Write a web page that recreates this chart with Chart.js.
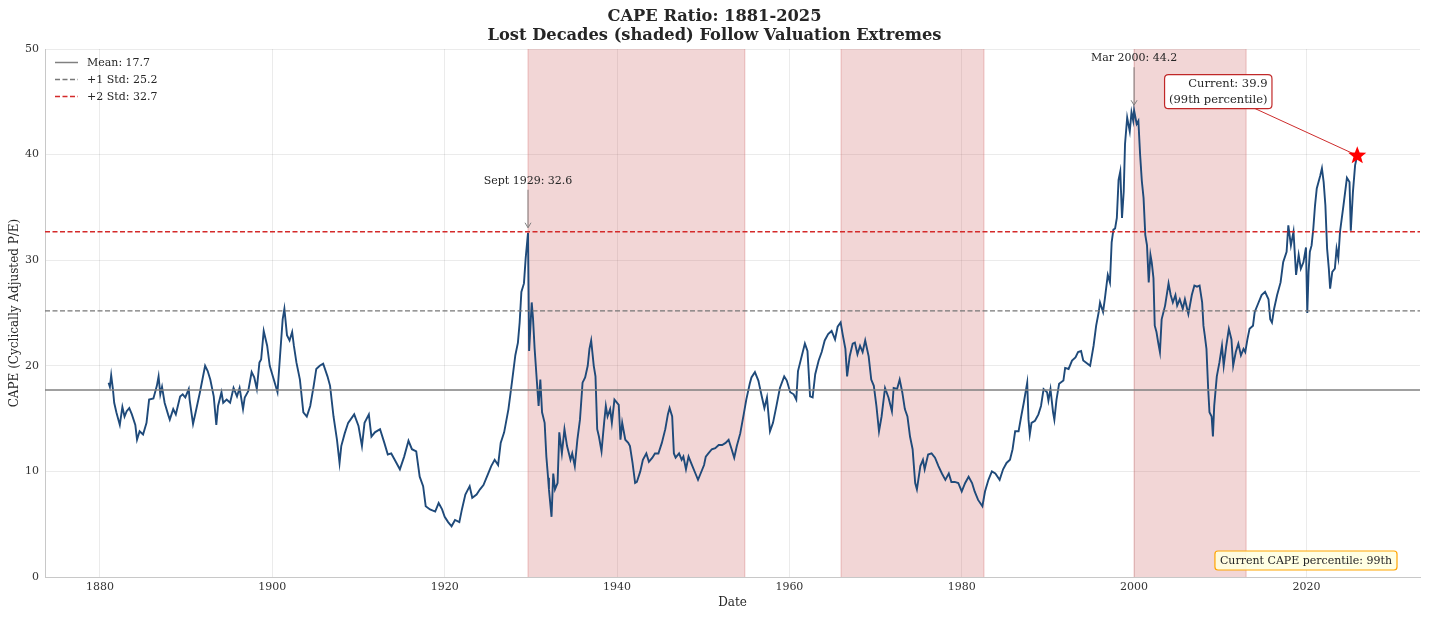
<!DOCTYPE html>
<html>
<head>
<meta charset="utf-8">
<script src="https://cdn.jsdelivr.net/npm/chart.js@4.4.1/dist/chart.umd.min.js"></script>
<style>
html,body{margin:0;padding:0;background:#fff;}
#wrap{width:1429px;height:619px;position:relative;}
</style>
</head>
<body>
<div id="wrap"><canvas id="c"></canvas></div>
<script>
// ---- data ----
const dates = [
 1881.0,1881.15,1881.3,1881.5,1881.65,1881.9,
 1882.3,1882.6,1882.85,
 1883.1,1883.4,1883.7,
 1884.1,1884.3,1884.6,
 1885.0,1885.4,1885.7,
 1886.2,1886.6,1886.8,
 1887.0,1887.2,1887.5,1887.9,
 1888.1,1888.5,1888.8,
 1889.3,1889.6,1889.9,
 1890.3,1890.4,1890.8,
 1891.1,1891.6,
 1892.2,1892.5,1892.8,
 1893.2,1893.5,1893.7,
 1894.1,1894.3,1894.7,
 1895.1,1895.5,1895.9,
 1896.2,1896.6,1896.8,
 1897.2,1897.6,1897.9,
 1898.2,1898.5,1898.7,
 1899.0,1899.4,1899.7,
 1900.1,1900.6,1900.9,
 1901.2,1901.4,1901.7,
 1902.0,1902.3,1902.5,1902.8,
 1903.2,1903.6,
 1904.0,1904.4,1904.8,
 1905.1,1905.5,1905.9,
 1906.4,1906.7,
 1907.1,1907.5,1907.8,
 1908.0,1908.4,1908.8,
 1909.5,
 1910.0,1910.4,1910.7,
 1911.2,1911.5,1911.9,
 1912.5,
 1913.0,1913.4,1913.8,
 1914.2,1914.8,
 1915.3,1915.8,
 1916.2,1916.7,
 1917.1,1917.5,1917.8,
 1918.3,1918.9,
 1919.3,1919.7,
 1920.0,1920.4,1920.8,
 1921.2,1921.7,
 1922.0,1922.4,1922.9,
 1923.2,1923.7,
 1924.1,1924.5,
 1925.0,1925.4,1925.8,
 1926.2,1926.5,1926.9,
 1927.4,1927.8,
 1928.2,1928.5,1928.7,1928.9,
 1929.2,1929.4,1929.67,1929.8,
 1930.1,1930.25,1930.44,1930.71,1930.9,
 1931.1,1931.3,1931.6,1931.8,
 1932.0,1932.1,1932.4,1932.6,1932.8,
 1933.1,1933.3,1933.6,1933.9,
 1934.2,1934.6,1934.8,
 1935.1,1935.4,1935.7,
 1936.0,1936.3,1936.6,1936.8,
 1937.0,1937.3,1937.5,1937.7,1937.9,
 1938.2,1938.5,1938.7,1938.9,
 1939.2,1939.4,1939.7,
 1940.2,1940.4,1940.6,1940.96,
 1941.3,1941.5,1941.8,
 1942.1,1942.3,1942.7,
 1943.0,1943.4,1943.7,
 1944.1,1944.4,1944.8,
 1945.2,1945.6,1945.9,
 1946.1,1946.4,1946.6,1946.8,
 1947.2,1947.5,1947.7,
 1948.0,1948.3,1948.7,
 1949.1,1949.4,1949.7,
 1950.1,1950.3,1950.6,
 1951.0,1951.4,1951.8,
 1952.2,1952.6,1952.95,
 1953.3,1953.6,1953.9,
 1954.3,1954.7,
 1955.0,1955.4,1955.6,
 1956.0,1956.4,1956.8,
 1957.1,1957.4,1957.75,
 1958.1,1958.5,1958.9,
 1959.4,1959.7,
 1960.1,1960.5,1960.8,
 1961.0,1961.4,1961.8,
 1962.1,1962.4,1962.7,
 1963.0,1963.4,1963.75,
 1964.1,1964.5,1964.9,
 1965.3,1965.6,1965.95,
 1966.2,1966.5,1966.7,
 1967.0,1967.35,1967.6,1967.9,
 1968.2,1968.5,1968.8,
 1969.2,1969.5,1969.8,
 1970.1,1970.4,1970.7,
 1971.1,1971.5,1971.9,
 1972.1,1972.5,1972.8,
 1973.1,1973.4,1973.7,
 1974.0,1974.3,1974.6,1974.8,
 1975.2,1975.5,1975.7,
 1976.1,1976.5,1976.9,
 1977.3,1977.7,
 1978.1,1978.5,1978.8,
 1979.2,1979.6,
 1980.0,1980.4,1980.8,
 1981.2,1981.5,1981.9,
 1982.4,1982.7,
 1983.1,1983.5,1983.9,
 1984.4,1984.8,
 1985.2,1985.6,1985.9,
 1986.2,1986.6,1986.9,
 1987.2,1987.6,1987.75,1987.9,
 1988.1,1988.5,1988.9,
 1989.2,1989.5,1989.9,
 1990.06,1990.3,1990.6,1990.75,
 1991.0,1991.3,1991.8,
 1992.0,1992.4,1992.8,
 1993.2,1993.5,1993.85,
 1994.1,1994.6,1994.9,
 1995.3,1995.6,1995.9,
 1996.05,1996.4,1996.6,1996.95,
 1997.2,1997.4,1997.6,1997.8,
 1998.0,1998.2,1998.4,1998.6,1998.8,1998.95,
 1999.2,1999.5,1999.7,1999.9,
 2000.0,2000.3,2000.5,2000.7,2000.9,
 2001.1,2001.3,2001.5,2001.7,2001.9,
 2002.05,2002.25,2002.4,2002.6,2002.8,
 2003.0,2003.2,2003.6,
 2004.0,2004.25,2004.5,2004.8,
 2005.0,2005.3,2005.65,2005.9,
 2006.3,2006.7,
 2007.0,2007.3,2007.6,2007.9,
 2008.05,2008.2,2008.4,2008.6,2008.75,
 2009.0,2009.15,2009.3,2009.6,2009.9,
 2010.2,2010.4,2010.7,
 2011.0,2011.3,2011.5,2011.8,
 2012.1,2012.4,2012.7,2012.9,
 2013.15,2013.4,2013.8,
 2014.0,2014.4,2014.8,
 2015.2,2015.6,2015.8,
 2016.0,2016.25,2016.6,
 2017.0,2017.3,2017.7,2017.9,
 2018.2,2018.5,2018.8,
 2019.1,2019.35,2019.65,2019.95,
 2020.1,2020.25,2020.4,2020.6,2020.8,
 2021.0,2021.2,2021.6,2021.8,
 2022.0,2022.2,2022.4,2022.6,2022.75,
 2023.0,2023.3,2023.5,2023.7,2023.9,
 2024.3,2024.7,
 2025.0,2025.15,2025.4,2025.65,2025.9
];
const cape = [
 18.4,18.0,19.1,17.8,16.5,15.6,
 14.4,16.1,15.2,
 15.7,16.0,15.4,
 14.4,13.0,13.8,
 13.5,14.6,16.8,
 16.9,18.1,19.0,
 17.3,18.0,16.5,15.4,
 14.9,15.9,15.4,
 17.1,17.3,17.0,
 17.8,16.8,14.5,
 15.6,17.5,
 20.0,19.5,18.7,
 17.1,14.4,16.2,
 17.5,16.5,16.8,
 16.5,17.9,17.1,
 17.9,15.9,17.0,
 17.6,19.4,18.9,
 17.8,20.3,20.6,
 23.3,21.9,20.0,
 18.9,17.5,21.0,
 24.4,25.4,22.9,
 22.4,23.2,21.9,20.3,
 18.7,15.6,
 15.2,16.2,18.1,
 19.7,20.0,20.2,
 19.0,18.1,
 15.2,13.0,10.8,
 12.4,13.6,14.6,
 15.4,
 14.3,12.4,14.6,
 15.4,13.3,13.7,
 14.0,
 12.7,11.6,11.7,
 11.1,10.2,
 11.4,12.9,
 12.1,11.9,
 9.5,8.6,6.7,
 6.4,6.2,
 7.0,6.4,
 5.7,5.2,4.8,
 5.4,5.2,
 6.4,7.8,8.6,
 7.5,7.8,
 8.3,8.7,
 9.7,10.5,11.1,
 10.6,12.7,13.7,
 15.9,18.4,
 21.0,22.2,24.1,27.0,
 27.8,30.2,32.6,21.4,
 26.0,24.5,21.6,18.4,16.2,
 18.7,15.6,14.6,11.4,
 9.4,8.3,5.7,9.8,8.3,
 8.9,13.7,11.7,14.0,
 12.4,11.1,11.7,
 10.5,13.0,14.9,
 18.4,18.9,20.0,21.6,
 22.4,20.0,19.0,14.0,13.3,
 11.9,14.6,16.2,15.2,
 15.9,14.6,16.8,
 16.3,13.0,14.6,13.0,
 12.7,12.4,10.8,
 8.9,9.0,10.0,
 11.1,11.7,10.9,
 11.3,11.7,11.7,
 12.7,14.0,15.4,
 16.0,15.2,11.7,11.3,
 11.7,11.1,11.4,
 10.2,11.4,10.6,
 9.8,9.2,9.8,
 10.6,11.4,11.7,
 12.1,12.2,12.5,
 12.5,12.7,13.0,
 12.1,11.3,12.4,
 13.6,15.4,
 16.8,18.3,18.9,
 19.4,18.6,17.1,
 16.0,17.0,13.8,
 14.6,16.2,17.9,
 19.0,18.6,
 17.5,17.3,16.8,
 19.5,20.8,22.1,
 21.4,17.1,17.0,
 19.2,20.5,21.3,
 22.4,23.0,23.3,
 22.5,23.7,24.1,
 22.9,21.6,19.0,
 20.9,22.1,22.2,21.1,
 21.9,21.3,22.4,
 20.9,18.7,18.1,
 16.2,13.8,15.2,
 17.9,17.0,15.7,
 17.9,17.8,18.7,
 17.5,15.9,15.2,
 13.3,12.1,8.9,8.3,
 10.5,11.1,10.2,
 11.6,11.7,11.3,
 10.5,9.8,
 9.2,9.8,9.0,
 9.0,8.9,
 8.1,8.9,9.5,
 8.9,8.1,7.3,
 6.7,8.1,
 9.2,10.0,9.8,
 9.2,10.2,
 10.8,11.1,12.1,
 13.8,13.8,15.2,
 16.5,18.4,14.9,13.5,
 14.6,14.8,15.4,
 16.2,17.8,17.5,
 16.7,17.8,15.6,14.9,
 16.8,18.3,18.6,
 19.8,19.7,20.5,
 20.8,21.3,21.4,
 20.5,20.2,20.0,
 21.9,23.8,25.1,
 26.0,25.1,26.3,28.6,
 27.9,31.7,32.9,33.0,
 34.0,37.6,38.4,34.0,36.5,41.0,
 43.5,42.2,44.0,43.2,
 44.2,42.9,43.2,40.0,37.5,
 35.9,32.4,31.4,27.9,30.5,
 29.8,28.3,23.8,23.2,22.2,
 21.3,24.4,25.7,
 27.8,26.7,26.0,26.7,
 25.7,26.3,25.4,26.3,
 24.9,26.7,
 27.6,27.5,27.6,26.0,
 23.8,22.9,21.6,17.8,15.6,
 15.2,13.3,16.2,19.0,20.3,
 21.9,20.0,21.9,
 23.5,22.5,20.0,21.3,
 22.1,21.0,21.6,21.3,
 22.5,23.5,23.8,
 25.1,25.9,26.7,
 27.0,26.3,24.4,
 24.1,25.4,26.7,
 27.9,29.8,30.8,33.3,
 31.4,32.7,28.6,
 30.5,29.2,29.8,31.2,
 25.0,28.9,30.8,31.4,33.0,
 35.2,36.8,38.0,38.7,
 37.4,35.2,31.1,29.2,27.3,
 28.9,29.2,31.1,30.2,32.7,
 35.2,37.8,
 37.4,32.8,36.5,39.0,39.9
];
const xTickValues = [1880,1900,1920,1940,1960,1980,2000,2020];
const yTickValues = [0,10,20,30,40,50];
const refLevels = [
  {label:'Mean: 17.7',  value:17.7},
  {label:'+1 Std: 25.2', value:25.2},
  {label:'+2 Std: 32.7', value:32.7}
];
const lostDecades = [[1929.67,1954.83],[1966.0,1982.58],[2000.0,2013.0]];
const peakNotes = [
  {label:'Sept 1929: 32.6', date:1929.67, value:32.6},
  {label:'Mar 2000: 44.2',  date:2000.0,  value:44.2}
];
const currentPoint = {date:2025.9, value:39.9, pctLabel:'99th'};
const titleLines = ['CAPE Ratio: 1881-2025','Lost Decades (shaded) Follow Valuation Extremes'];

// ---- styling ----
const FONT = "'DejaVu Serif', serif";
const X_MIN = 1873.62, X_MAX = 2033.18;
const refStyles = [
  {color:'#808080', dash:[], width:1.5},
  {color:'#777777', dash:[5,2.5], width:1.4},
  {color:'#d42a2a', dash:[5,2.5], width:1.4}
];

const capeSeries = dates.map((d,i)=>({x:d, y:cape[i]}));
const refDatasets = refLevels.map((r,i)=>({
  label:r.label,
  data:[{x:X_MIN,y:r.value},{x:X_MAX,y:r.value}],
  borderColor:refStyles[i].color,
  borderDash:refStyles[i].dash,
  borderWidth:refStyles[i].width,
  pointRadius:0, fill:false, order:i
}));

function roundRect(ctx,x,y,w,h,r){
  ctx.beginPath();
  ctx.moveTo(x+r,y); ctx.lineTo(x+w-r,y); ctx.quadraticCurveTo(x+w,y,x+w,y+r);
  ctx.lineTo(x+w,y+h-r); ctx.quadraticCurveTo(x+w,y+h,x+w-r,y+h);
  ctx.lineTo(x+r,y+h); ctx.quadraticCurveTo(x,y+h,x,y+h-r);
  ctx.lineTo(x,y+r); ctx.quadraticCurveTo(x,y,x+r,y); ctx.closePath();
}
function star(ctx,cx,cy,R,r){
  ctx.beginPath();
  for(let k=0;k<10;k++){
    const rad = k%2===0?R:r;
    const a = -Math.PI/2 + k*Math.PI/5;
    const px = cx + rad*Math.cos(a), py = cy + rad*Math.sin(a);
    if(k===0) ctx.moveTo(px,py); else ctx.lineTo(px,py);
  }
  ctx.closePath();
}

const deco = {
  id:'deco',
  beforeDatasetsDraw(chart){
    const {ctx, chartArea:a, scales:{x}} = chart;
    ctx.save();
    lostDecades.forEach(([s,e])=>{
      const x0 = x.getPixelForValue(s), x1 = x.getPixelForValue(e);
      ctx.fillStyle = 'rgba(205,92,92,0.25)';
      ctx.fillRect(x0, a.top, x1-x0, a.bottom-a.top);
      ctx.strokeStyle = 'rgba(205,92,92,0.35)';
      ctx.lineWidth = 1;
      ctx.beginPath();
      ctx.moveTo(x0, a.top); ctx.lineTo(x0, a.bottom);
      ctx.moveTo(x1, a.top); ctx.lineTo(x1, a.bottom);
      ctx.stroke();
    });
    ctx.restore();
  },
  afterDraw(chart){
    const {ctx, chartArea:a, scales:{x,y}} = chart;
    ctx.save();
    // title
    ctx.fillStyle = '#262626';
    ctx.textAlign = 'center'; ctx.textBaseline = 'middle';
    ctx.font = 'bold 16.3px ' + FONT;
    ctx.fillText(titleLines[0], chart.width/2, 16.5);
    ctx.fillText(titleLines[1], chart.width/2, 35.5);

    // legend (upper left, inside axes)
    ctx.font = '11px ' + FONT;
    ctx.textAlign = 'left';
    refLevels.forEach((r,i)=>{
      const ly = a.top + 13.5 + i*17;
      ctx.strokeStyle = refStyles[i].color;
      ctx.lineWidth = refStyles[i].width;
      ctx.setLineDash(refStyles[i].dash);
      ctx.beginPath(); ctx.moveTo(a.left+10, ly); ctx.lineTo(a.left+33, ly); ctx.stroke();
      ctx.setLineDash([]);
      ctx.fillStyle = '#262626';
      ctx.fillText(r.label, a.left+42, ly+0.5);
    });

    // peak annotations
    peakNotes.forEach(p=>{
      const px = x.getPixelForValue(p.date);
      const tipY = y.getPixelForValue(p.value) - 5;
      const textY = y.getPixelForValue(p.value) - 52;
      ctx.fillStyle = '#262626';
      ctx.textAlign = 'center';
      ctx.font = '11px ' + FONT;
      ctx.fillText(p.label, px, textY);
      ctx.strokeStyle = '#808080'; ctx.lineWidth = 1;
      ctx.beginPath(); ctx.moveTo(px, textY+9); ctx.lineTo(px, tipY); ctx.stroke();
      ctx.beginPath(); ctx.moveTo(px-3, tipY-5); ctx.lineTo(px, tipY); ctx.lineTo(px+3, tipY-5); ctx.stroke();
    });

    // current value callout
    const sx = x.getPixelForValue(currentPoint.date), sy = y.getPixelForValue(currentPoint.value);
    ctx.font = '11.5px ' + FONT;
    const l1 = 'Current: ' + currentPoint.value.toFixed(1);
    const l2 = '(' + currentPoint.pctLabel + ' percentile)';
    const tw = Math.max(ctx.measureText(l1).width, ctx.measureText(l2).width);
    const bw = tw + 9, bh = 34;
    const bcx = sx - 139, bcy = sy - 64;
    const bx = bcx - bw/2, by = bcy - bh/2;
    const t = (by+bh - bcy)/(sy - bcy);
    const ax0 = bcx + t*(sx-bcx), ay0 = by+bh;
    ctx.strokeStyle = 'rgba(200,20,20,0.9)'; ctx.lineWidth = 1;
    ctx.beginPath(); ctx.moveTo(ax0, ay0); ctx.lineTo(sx-4, sy-2); ctx.stroke();
    roundRect(ctx, bx, by, bw, bh, 4);
    ctx.fillStyle = '#ffffff'; ctx.fill();
    ctx.strokeStyle = 'rgba(190,30,30,0.95)'; ctx.lineWidth = 1.2; ctx.stroke();
    ctx.fillStyle = '#262626'; ctx.textAlign = 'right';
    ctx.fillText(l1, bx+bw-4.5, by+9.5);
    ctx.fillText(l2, bx+bw-4.5, by+25);
    star(ctx, sx, sy, 9.5, 4);
    ctx.fillStyle = '#ff0000'; ctx.fill();

    // bottom-right info box
    ctx.font = '11px ' + FONT;
    const info = 'Current CAPE percentile: ' + currentPoint.pctLabel;
    const iw = ctx.measureText(info).width + 10, ih = 19;
    const ix = a.right - 23 - iw, iy = a.bottom - 7 - ih;
    roundRect(ctx, ix, iy, iw, ih, 3);
    ctx.fillStyle = 'rgba(255,255,224,0.9)'; ctx.fill();
    ctx.strokeStyle = '#ffa500'; ctx.lineWidth = 1.2; ctx.stroke();
    ctx.fillStyle = '#262626'; ctx.textAlign = 'center';
    ctx.fillText(info, ix+iw/2, iy+ih/2+0.5);
    ctx.restore();
  }
};

Chart.defaults.font.family = FONT;
new Chart(document.getElementById('c'), {
  type:'line',
  data:{
    datasets:[
      ...refDatasets,
      {label:'CAPE', data:capeSeries, borderColor:'#1f4a7a', borderWidth:1.9,
       pointRadius:0, tension:0, fill:false, order:10}
    ]
  },
  options:{
    responsive:true, maintainAspectRatio:false, animation:false,
    layout:{padding:{top:49, right:9, left:0, bottom:0}},
    plugins:{legend:{display:false}, title:{display:false}, tooltip:{enabled:false}},
    scales:{
      x:{
        type:'linear', min:X_MIN, max:X_MAX,
        afterBuildTicks(s){ s.ticks = xTickValues.map(v=>({value:v})); },
        afterFit(s){ s.height = 42; },
        ticks:{callback:v=>String(v), color:'#333', font:{size:11, family:FONT}, padding:4, maxRotation:0, autoSkip:false},
        grid:{color:'rgba(0,0,0,0.08)', drawTicks:false, lineWidth:1},
        border:{color:'#c8c8c8', width:1},
        title:{display:true, text:'Date', color:'#262626', font:{size:12, family:FONT}, padding:{top:0, bottom:9}}
      },
      y:{
        min:0, max:50,
        afterBuildTicks(s){ s.ticks = yTickValues.map(v=>({value:v})); },
        afterFit(s){ s.width = 45; },
        ticks:{color:'#333', font:{size:11, family:FONT}, padding:6},
        grid:{color:'rgba(0,0,0,0.08)', drawTicks:false, lineWidth:1},
        border:{color:'#c8c8c8', width:1},
        title:{display:true, text:'CAPE (Cyclically Adjusted P/E)', color:'#262626', font:{size:12, family:FONT}, padding:{top:8, bottom:0}}
      }
    }
  },
  plugins:[deco]
});
</script>
</body>
</html>
